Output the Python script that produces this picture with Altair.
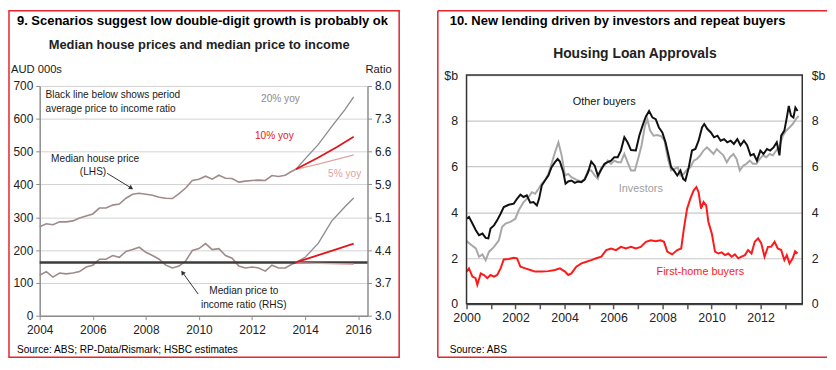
import altair as alt
import pandas as pd

FONT = "'Liberation Sans Narrow', 'Arial Narrow', 'Liberation Sans', Arial, sans-serif"
RED_BORDER = "#e8232b"

# ---------------- Panel 9 data ----------------
hist_years = [2004.0, 2004.25, 2004.5, 2004.75, 2005.0, 2005.25, 2005.5, 2005.75,
              2006.0, 2006.25, 2006.5, 2006.75, 2007.0, 2007.25, 2007.5, 2007.75,
              2008.0, 2008.25, 2008.5, 2008.75, 2009.0, 2009.25, 2009.5, 2009.75,
              2010.0, 2010.25, 2010.5, 2010.75, 2011.0, 2011.25, 2011.5, 2011.75,
              2012.0, 2012.25, 2012.5, 2012.75, 2013.0, 2013.25, 2013.5, 2013.65]
house_price = [271, 280, 277, 286, 286, 289, 298, 304,
               310, 328, 328, 337, 340, 358, 370, 373,
               370, 367, 361, 358, 357, 372, 389, 412,
               416, 425, 416, 428, 419, 418, 407, 410,
               412, 413, 412, 427, 424, 428, 440, 446]
price_income = [3.88, 3.96, 3.84, 3.93, 3.91, 3.93, 3.96, 4.06,
                4.10, 4.23, 4.23, 4.31, 4.27, 4.40, 4.44, 4.49,
                4.38, 4.31, 4.23, 4.10, 4.04, 4.08, 4.19, 4.42,
                4.46, 4.57, 4.44, 4.46, 4.31, 4.25, 4.08, 4.04,
                4.06, 4.04, 3.97, 4.10, 4.04, 4.04, 4.12, 4.16]
p20_years = [2013.65, 2014.0, 2014.5, 2015.0, 2015.5, 2015.83]
p20_price = [446, 478, 522, 576, 628, 667]
p20_ratio = [4.16, 4.27, 4.58, 5.06, 5.37, 5.56]
p10_years = [2013.65, 2014.5, 2015.2, 2015.83]
p10_price = [446, 482, 514, 545]
p10_ratio = [4.16, 4.32, 4.45, 4.57]
p5_years = [2013.65, 2014.5, 2015.83]
p5_price = [446, 462, 490]
p5_ratio = [4.15, 4.14, 4.12]
avg_ratio = 4.16
lhs_ticks = [0, 100, 200, 300, 400, 500, 600, 700]
rhs_ticks = [3.0, 3.714, 4.429, 5.143, 5.857, 6.571, 7.286, 8.0]
x9_ticks = [2004, 2006, 2008, 2010, 2012, 2014, 2016]

# ---------------- Panel 10 data ----------------
ob_years = [2000.0, 2000.1, 2000.24, 2000.38, 2000.51, 2000.65, 2000.78, 2000.89, 2000.98,
            2001.12, 2001.25, 2001.39, 2001.52, 2001.72, 2001.93, 2002.06, 2002.2, 2002.33,
            2002.46, 2002.6, 2002.73, 2002.87, 2002.96, 2003.07, 2003.2, 2003.34, 2003.47,
            2003.61, 2003.72, 2003.81, 2003.95, 2004.04, 2004.15, 2004.28, 2004.42, 2004.55,
            2004.69, 2004.82, 2004.96, 2005.09, 2005.23, 2005.36, 2005.5, 2005.63, 2005.76,
            2005.9, 2006.03, 2006.17, 2006.3, 2006.44, 2006.57, 2006.71, 2006.91, 2007.05,
            2007.18, 2007.32, 2007.45, 2007.59, 2007.72, 2007.85, 2007.99, 2008.12, 2008.26,
            2008.35, 2008.46, 2008.6, 2008.73, 2008.84, 2008.93, 2009.07, 2009.2, 2009.34,
            2009.47, 2009.61, 2009.7, 2009.83, 2009.97, 2010.1, 2010.24, 2010.37, 2010.51,
            2010.64, 2010.78, 2010.91, 2011.05, 2011.18, 2011.32, 2011.45, 2011.59, 2011.72,
            2011.85, 2011.99, 2012.12, 2012.26, 2012.39, 2012.53, 2012.66, 2012.77, 2012.84,
            2012.97, 2013.07, 2013.15, 2013.24, 2013.34, 2013.42, 2013.51]
ob_vals = [3.72, 3.80, 3.51, 3.22, 3.00, 3.07, 2.88, 2.86, 3.29,
           3.43, 3.65, 3.94, 4.23, 4.33, 4.38, 4.59, 4.77, 4.67,
           4.74, 4.42, 4.45, 4.30, 4.59, 5.17, 5.39, 5.61, 5.97,
           6.19, 6.33, 6.22, 5.75, 5.25, 5.35, 5.39, 5.29, 5.35,
           5.32, 5.43, 5.75, 6.22, 6.04, 5.61, 5.87, 6.12, 6.19,
           6.26, 6.41, 6.41, 6.70, 7.28, 7.06, 6.72, 6.70, 7.35,
           7.78, 8.19, 8.43, 8.14, 8.07, 7.71, 7.49, 7.06, 6.41,
           5.97, 5.83, 5.61, 5.83, 5.46, 5.39, 5.97, 6.70, 6.77,
           7.13, 7.71, 7.86, 7.64, 7.49, 7.28, 7.35, 7.13, 7.20,
           7.06, 7.13, 6.99, 7.20, 6.93, 7.13, 6.93, 6.49, 6.55,
           6.26, 6.70, 6.55, 6.77, 6.70, 6.84, 7.06, 6.49, 7.35,
           7.57, 8.14, 8.65, 8.22, 8.14, 8.58, 8.43]
inv_years = [2000.0, 2000.17, 2000.38, 2000.51, 2000.65, 2000.78, 2000.92, 2001.12, 2001.32,
             2001.45, 2001.59, 2001.79, 2001.99, 2002.13, 2002.33, 2002.53, 2002.67, 2002.8,
             2002.94, 2003.07, 2003.2, 2003.34, 2003.47, 2003.61, 2003.75, 2003.88, 2004.02,
             2004.15, 2004.28, 2004.42, 2004.55, 2004.69, 2004.82, 2004.96, 2005.09, 2005.23,
             2005.36, 2005.5, 2005.63, 2005.76, 2005.9, 2006.03, 2006.17, 2006.3, 2006.44,
             2006.57, 2006.71, 2006.87, 2007.0, 2007.14, 2007.28, 2007.38, 2007.49, 2007.63,
             2007.79, 2007.95, 2008.08, 2008.22, 2008.35, 2008.49, 2008.62, 2008.73, 2008.86,
             2009.0, 2009.13, 2009.27, 2009.4, 2009.54, 2009.67, 2009.81, 2009.94, 2010.08,
             2010.21, 2010.35, 2010.48, 2010.62, 2010.75, 2010.89, 2011.02, 2011.15, 2011.29,
             2011.42, 2011.56, 2011.69, 2011.83, 2011.96, 2012.1, 2012.23, 2012.37, 2012.5,
             2012.64, 2012.77, 2012.91, 2013.04, 2013.18, 2013.31, 2013.44, 2013.55]
inv_vals = [2.75, 2.59, 2.42, 2.06, 2.16, 1.91, 2.28, 2.49, 2.78,
            3.36, 3.51, 3.58, 3.72, 4.09, 4.45, 4.67, 4.88, 4.81,
            5.03, 5.25, 5.39, 5.68, 6.12, 6.62, 7.06, 6.49, 5.61,
            5.68, 5.54, 5.46, 5.39, 5.35, 5.46, 5.83, 5.83, 5.61,
            5.46, 5.97, 6.04, 6.26, 6.12, 6.26, 6.19, 6.19, 6.55,
            6.19, 5.83, 5.83, 6.33, 6.91, 7.78, 8.07, 7.57, 7.35,
            7.38, 7.32, 7.13, 6.33, 5.83, 5.90, 5.97, 5.61, 5.68,
            5.87, 5.97, 6.26, 6.33, 6.49, 6.70, 6.84, 6.70, 6.55,
            6.77, 6.62, 6.49, 6.19, 6.41, 6.55, 6.33, 5.83, 6.04,
            6.12, 6.26, 6.12, 6.12, 6.33, 6.49, 6.41, 6.55, 6.49,
            6.70, 6.91, 7.35, 7.57, 7.71, 7.86, 8.07, 8.22]
fhb_years = [2000.0, 2000.1, 2000.24, 2000.37, 2000.44, 2000.58, 2000.71, 2000.85, 2000.98,
             2001.12, 2001.25, 2001.39, 2001.52, 2001.72, 2001.93, 2002.06, 2002.2, 2002.4,
             2002.6, 2002.8, 2003.07, 2003.34, 2003.61, 2003.81, 2004.02, 2004.15, 2004.28,
             2004.48, 2004.69, 2004.89, 2005.09, 2005.29, 2005.5, 2005.7, 2005.9, 2006.1,
             2006.3, 2006.5, 2006.71, 2006.91, 2007.11, 2007.32, 2007.52, 2007.72, 2007.92,
             2008.06, 2008.19, 2008.39, 2008.6, 2008.76, 2008.87, 2009.0, 2009.13, 2009.27,
             2009.38, 2009.47, 2009.57, 2009.67, 2009.78, 2009.87, 2010.01, 2010.14, 2010.28,
             2010.41, 2010.55, 2010.68, 2010.82, 2010.95, 2011.09, 2011.22, 2011.36, 2011.49,
             2011.63, 2011.76, 2011.9, 2012.03, 2012.16, 2012.3, 2012.43, 2012.57, 2012.7,
             2012.84, 2012.97, 2013.07, 2013.18, 2013.31, 2013.41, 2013.51]
fhb_vals = [1.41, 1.55, 1.19, 1.12, 0.83, 1.33, 1.26, 1.12, 1.26,
            1.19, 1.26, 1.55, 1.94, 1.96, 2.01, 1.99, 1.62, 1.55,
            1.48, 1.41, 1.41, 1.43, 1.48, 1.55, 1.41, 1.26, 1.33,
            1.62, 1.77, 1.84, 1.91, 1.99, 2.06, 2.35, 2.42, 2.35,
            2.49, 2.42, 2.49, 2.42, 2.49, 2.71, 2.78, 2.74, 2.78,
            2.71, 2.28, 2.16, 2.35, 2.42, 3.29, 4.16, 4.59, 4.96,
            5.10, 4.88, 4.16, 4.45, 4.30, 3.58, 3.07, 2.28, 2.20,
            2.25, 2.13, 2.20, 2.06, 2.16, 1.99, 2.06, 2.13, 2.35,
            2.20, 2.71, 2.86, 2.64, 2.06, 2.49, 2.49, 2.71, 2.42,
            2.35, 1.91, 2.13, 1.77, 1.99, 2.30, 2.20]
y10_ticks = [0, 2, 4, 6, 8, 10]
x10_ticks = [2000, 2001, 2002, 2003, 2004, 2005, 2006, 2007, 2008, 2009, 2010, 2011, 2012, 2013]


def df(years, vals):
    return pd.DataFrame({"year": years, "v": vals})


def ptext(s, x, y, size, weight="normal", color="#1a1a1a", align="left"):
    return alt.Chart(pd.DataFrame({"t": [s]})).mark_text(
        text=s, align=align, baseline="middle", font=FONT, fontSize=size,
        fontWeight=weight, color=color
    ).encode(x=alt.value(x), y=alt.value(y))


# ================= Panel 9 =================
# group height 243; data area spans 11..243 so that its top sits lower than panel 10's
W9, H9 = 331, 243
RANGE9 = [243, 11]
ax9x = alt.Axis(values=x9_ticks, format="d", grid=False, domainColor="#8c8c8c", domainWidth=1.5,
                tickColor="#8c8c8c", tickSize=4, labelPadding=5, labelFontSize=12,
                labelColor="#222", labelFont=FONT, labelFlush=False, title=None)
ax9L = alt.Axis(values=lhs_ticks, grid=True, gridColor="#d2d2d2", gridWidth=1,
                domainColor="#8c8c8c", domainWidth=1.5, tickColor="#8c8c8c", tickSize=4,
                labelPadding=3, labelFontSize=12, labelColor="#222", labelFont=FONT, title=None)
ax9R = alt.Axis(values=rhs_ticks, format=".1f", orient="right", grid=False,
                domainColor="#8c8c8c", domainWidth=1.5, tickColor="#8c8c8c", tickSize=4,
                labelPadding=3, labelFontSize=12, labelColor="#222", labelFont=FONT, title=None)
X9 = alt.X("year:Q", scale=alt.Scale(domain=[2004, 2016.35], nice=False, zero=False), axis=ax9x)
YL = alt.Y("v:Q", scale=alt.Scale(domain=[0, 700], nice=False, range=RANGE9), axis=ax9L)
YR = alt.Y("v:Q", scale=alt.Scale(domain=[3, 8], nice=False, zero=False, range=RANGE9), axis=ax9R)

HIST = "#a08a8a"


def l9(d, y, color, w):
    return alt.Chart(d).mark_line(color=color, strokeWidth=w).encode(x=X9, y=y)


def dtext9(s, year, v, size=10.2, color="#1a1a1a", align="center"):
    return alt.Chart(df([year], [v])).mark_text(
        text=s, align=align, baseline="middle", font=FONT, fontSize=size, color=color
    ).encode(x=X9, y=YL)


def arrow9(x0, y0, x1, y1, ang):
    seg = alt.Chart(df([x0, x1], [y0, y1])).mark_line(color="#333", strokeWidth=1).encode(x=X9, y=YL)
    head = alt.Chart(df([x1], [y1])).mark_point(shape="triangle-up", filled=True, color="#333",
                                                size=26, angle=ang, opacity=1).encode(x=X9, y=YL)
    return seg + head


left9 = alt.layer(
    alt.Chart(pd.DataFrame({"a": [0]})).mark_rect(fillOpacity=0, stroke=RED_BORDER, strokeWidth=1.5)
    .encode(x=alt.value(-31), x2=alt.value(363), y=alt.value(-65), y2=alt.value(285)),
    l9(df(hist_years, house_price), YL, HIST, 1.6),
    l9(df(p5_years, p5_price), YL, "#e3a3a3", 1.3),
    l9(df(p20_years, p20_price), YL, "#8a8a8a", 1.3),
    l9(df(p10_years, p10_price), YL, "#e4141b", 1.8),
    dtext9("Black line below shows period", 2004.22, 672, align="left"),
    dtext9("average price to income ratio", 2004.22, 630, align="left"),
    dtext9("Median house price", 2006.09, 476),
    dtext9("(LHS)", 2006.01, 437),
    dtext9("Median price to", 2011.69, 75),
    dtext9("income ratio (RHS)", 2011.69, 33),
    dtext9("20% yoy", 2013.07, 660, size=10.2, color="#8a8a8a"),
    dtext9("10% yoy", 2012.84, 548, size=10.2, color="#e4141b"),
    dtext9("5% yoy", 2015.49, 431, size=10.2, color="#e3a0a0"),
    arrow9(2006.54, 434, 2007.45, 389, 121.6),
    arrow9(2009.97, 66, 2009.38, 132, 323.6),
    ptext("9. Scenarios suggest low double-digit growth is probably ok", -23, -55, 13.1, "bold", "#000"),
    ptext("Median house prices and median price to income", 161, -30, 13.0, "bold", "#222", "center"),
    ptext("AUD 000s", -29, -5, 11.3),
    ptext("Ratio", 329, -5, 11.3),
    ptext("Source: ABS; RP-Data/Rismark; HSBC estimates", -23, 278, 10.2, color="#000"),
)
right9 = alt.layer(
    l9(df(hist_years, price_income), YR, HIST, 1.6),
    alt.Chart(pd.DataFrame({"v": [avg_ratio]})).mark_rule(color="#3c3c3c", strokeWidth=2.5).encode(y=YR),
    l9(df(p5_years, p5_ratio), YR, "#e3a3a3", 1.3),
    l9(df(p20_years, p20_ratio), YR, "#8a8a8a", 1.3),
    l9(df(p10_years, p10_ratio), YR, "#e4141b", 1.8),
)
panel9 = alt.layer(left9, right9).resolve_scale(y="independent").properties(width=W9, height=H9)

# ================= Panel 10 =================
W10, H10 = 339, 231
ax10x = alt.Axis(values=x10_ticks, format="d", labelExpr="datum.value % 2 == 0 ? datum.label : ''",
                 grid=False, domainColor="#555", domainWidth=2, tickColor="#555", tickSize=5,
                 tickWidth=1.5, labelPadding=3, labelFontSize=12.5, labelColor="#222",
                 labelFont=FONT, labelFlush=False, labelOverlap=False, title=None)
ax10L = alt.Axis(values=y10_ticks, labelExpr="datum.value == 10 ? '$b' : datum.label",
                 grid=True, gridColor="#c8c8c8", gridWidth=1.2, domain=False, ticks=False,
                 labelPadding=9, labelFontSize=12.5, labelColor="#222", labelFont=FONT, title=None)
ax10R = alt.Axis(values=y10_ticks, labelExpr="datum.value == 10 ? '$b' : datum.label",
                 orient="right", grid=False, domain=False, ticks=False,
                 labelPadding=9, labelFontSize=12.5, labelColor="#222", labelFont=FONT, title=None)
X10 = alt.X("year:Q", scale=alt.Scale(domain=[2000, 2013.7], nice=False, zero=False), axis=ax10x)
Y10 = alt.Y("v:Q", scale=alt.Scale(domain=[0, 10], nice=False), axis=ax10L)
Y10R = alt.Y("v:Q", scale=alt.Scale(domain=[0, 10], nice=False), axis=ax10R)


def l10(d, color, w):
    return alt.Chart(d).mark_line(color=color, strokeWidth=w).encode(x=X10, y=Y10)


def dtext10(s, year, v, color, size=11):
    return alt.Chart(df([year], [v])).mark_text(
        text=s, align="center", baseline="middle", font=FONT, fontSize=size, color=color
    ).encode(x=X10, y=Y10)


def prule(x, x2=None, y=None, y2=None):
    enc = {"x": alt.value(x), "y": alt.value(y)}
    if x2 is not None:
        enc["x2"] = alt.value(x2)
    if y2 is not None:
        enc["y2"] = alt.value(y2)
    return alt.Chart(pd.DataFrame({"a": [0]})).mark_rule(color=RED_BORDER, strokeWidth=1.5).encode(**enc)


left10 = alt.layer(
    prule(-29, x2=364, y=-65),
    prule(-29, y=-65, y2=285),
    prule(-29, x2=364, y=285),
    l10(df(inv_years, inv_vals), "#a8a8a8", 2),
    l10(df(ob_years, ob_vals), "#111111", 2),
    l10(df(fhb_years, fhb_vals), "#ff1a1a", 2),
    alt.Chart(pd.DataFrame({"a": [0]})).mark_rect(fillOpacity=0, stroke="#333", strokeWidth=1.5)
    .encode(x=alt.value(0), x2=alt.value(W10), y=alt.value(0), y2=alt.value(H10)),
    dtext10("Other buyers", 2005.62, 8.83, "#111"),
    dtext10("Investors", 2007.11, 5.04, "#a0a0a0"),
    dtext10("First-home buyers", 2009.54, 1.39, "#ff1a1a"),
    ptext("10. New lending driven by investors and repeat buyers", -17, -55, 13.1, "bold", "#000"),
    ptext("Housing Loan Approvals", 170, -21, 14.0, "bold", "#222", "center"),
    ptext("Source: ABS", -17, 278, 10.2, color="#000"),
)
right10 = alt.Chart(df(ob_years, ob_vals)).mark_line(opacity=0).encode(x=X10, y=Y10R)
panel10 = alt.layer(left10, right10).resolve_scale(y="independent").properties(width=W10, height=H10)

chart = alt.hconcat(panel9, panel10, spacing=37).properties(
    padding=0, background="white"
).configure_view(stroke=None)

chart.save("out.html", embed_options={"renderer": "svg", "actions": False})
